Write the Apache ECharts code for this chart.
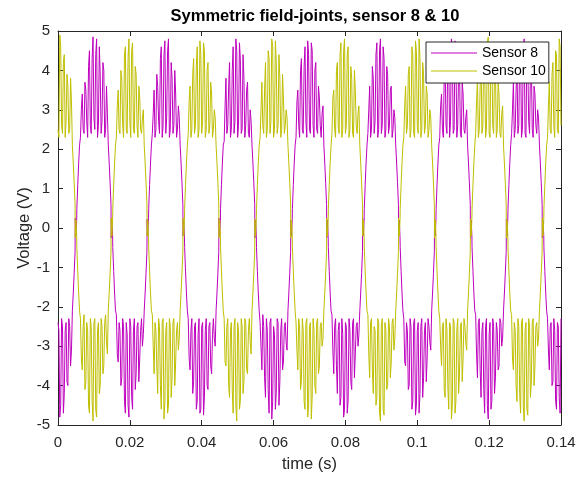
<!DOCTYPE html>
<html>
<head>
<meta charset="utf-8">
<script src="https://cdn.jsdelivr.net/npm/echarts@6/dist/echarts.min.js"></script>
<style>
  html, body { margin: 0; padding: 0; background: #fff; }
  #chart { width: 584px; height: 477px; }
</style>
</head>
<body>
<div id="chart"></div>
<script>
// Sampling step of the recorded signals (s); sample i is taken at i * sampleStep.
const sampleStep = 0.00025;

// Sensor 8 voltage (V), one row per half-cycle of the supply.
const sensor8 = [
  -2.4, -2.6, -4.8, -4.5, -2.3, -2.5, -4.7, -4.2, -2.6, -2.4, -3.9, -4.0, -2.3, -2.5, -3.5, -3.1,
  -2.1, -1.65, -1.15, -0.6, -0.2,
  // 0.01 s
  0.5, 1.1, 1.65, 2.1,
  2.3, 3.0, 3.4, 2.5, 2.4, 3.7, 3.5, 2.7, 2.3, 4.1, 4.5, 2.6, 2.4, 4.3, 4.85, 2.8, 2.5, 4.4, 4.8, 2.3, 2.6, 4.6, 3.9, 2.4, 2.7, 4.2, 4.0, 2.3, 2.5, 3.6, 2.9,
  2.1, 1.65, 1.15, 0.6, 0.2,
  // 0.02 s
  -0.5, -1.1, -1.65, -2.1,
  -2.2, -3.2, -3.4, -2.4, -2.6, -4.0, -3.8, -2.3, -2.5, -4.4, -4.7, -2.4, -2.7, -4.5, -4.8, -2.3, -2.5, -4.3, -4.6, -2.6, -2.3, -4.1, -3.7, -2.5, -2.4, -3.9, -3.3, -2.6, -2.3, -3.0, -2.7,
  -2.1, -1.65, -1.15, -0.6, -0.2,
  // 0.03 s
  0.5, 1.1, 1.65, 2.1,
  2.4, 2.9, 3.5, 2.3, 2.5, 3.9, 3.6, 2.7, 2.4, 4.3, 4.6, 2.3, 2.6, 4.4, 4.75, 2.4, 2.8, 4.5, 4.8, 2.3, 2.5, 4.2, 3.8, 2.4, 2.6, 4.0, 3.4, 2.3, 2.5, 3.1, 2.8,
  2.1, 1.65, 1.15, 0.6, 0.2,
  // 0.04 s
  -0.5, -1.1, -1.65, -2.1,
  -2.3, -3.3, -3.6, -2.6, -2.3, -4.2, -3.9, -2.5, -2.4, -4.6, -4.4, -2.7, -2.3, -4.7, -4.6, -2.5, -2.4, -4.75, -4.3, -2.6, -2.3, -4.0, -4.1, -2.5, -2.4, -3.5, -3.7, -2.7, -2.3, -2.8, -3.0,
  -2.1, -1.65, -1.15, -0.6, -0.2,
  // 0.05 s
  0.5, 1.1, 1.65, 2.1,
  2.2, 3.1, 3.8, 2.4, 2.6, 3.6, 4.2, 2.3, 2.5, 4.0, 4.6, 2.4, 2.7, 4.8, 4.5, 2.3, 2.6, 4.7, 4.3, 2.4, 2.5, 4.4, 3.8, 2.3, 2.6, 3.5, 3.7, 2.4, 2.3, 3.0, 2.7,
  2.1, 1.65, 1.15, 0.6, 0.2,
  // 0.06 s
  -0.5, -1.1, -1.65, -2.1,
  -2.4, -3.0, -3.6, -2.2, -2.5, -3.8, -4.3, -2.3, -2.6, -4.1, -4.7, -2.4, -2.3, -4.85, -4.4, -2.5, -2.7, -4.6, -4.2, -2.3, -2.4, -4.5, -3.9, -2.6, -2.3, -3.6, -3.4, -2.5, -2.4, -2.9, -3.1,
  -2.1, -1.65, -1.15, -0.6, -0.2,
  // 0.07 s
  0.5, 1.1, 1.65, 2.1,
  2.3, 3.2, 3.5, 2.6, 2.3, 4.0, 4.3, 2.5, 2.4, 4.1, 4.6, 2.7, 2.3, 4.75, 4.4, 2.5, 2.4, 4.7, 4.5, 2.6, 2.3, 4.0, 4.2, 2.5, 2.4, 3.6, 3.3, 2.6, 2.3, 2.9, 3.1,
  2.1, 1.65, 1.15, 0.6, 0.2,
  // 0.08 s
  -0.5, -1.1, -1.65, -2.1,
  -2.2, -3.1, -3.7, -2.5, -2.3, -3.5, -4.2, -2.6, -2.4, -4.5, -4.3, -2.3, -2.7, -4.8, -4.6, -2.4, -2.5, -4.7, -4.4, -2.3, -2.6, -3.9, -4.1, -2.4, -2.3, -3.8, -3.2, -2.5, -2.4, -3.0, -2.7,
  -2.1, -1.65, -1.15, -0.6, -0.2,
  // 0.09 s
  0.5, 1.1, 1.65, 2.1,
  2.4, 3.0, 3.6, 2.3, 2.5, 4.1, 3.8, 2.4, 2.7, 4.4, 4.7, 2.3, 2.5, 4.5, 4.8, 2.4, 2.6, 4.6, 4.3, 2.3, 2.5, 4.1, 3.9, 2.4, 2.6, 3.5, 3.6, 2.3, 2.5, 3.0, 2.8,
  2.1, 1.65, 1.15, 0.6, 0.2,
  // 0.10 s
  -0.5, -1.1, -1.65, -2.1,
  -2.3, -3.4, -3.5, -2.4, -2.6, -4.1, -4.0, -2.3, -2.5, -4.6, -4.4, -2.4, -2.3, -4.75, -4.5, -2.6, -2.4, -4.7, -4.2, -2.5, -2.3, -4.3, -3.8, -2.6, -2.4, -3.9, -3.3, -2.3, -2.5, -2.9, -3.1,
  -2.1, -1.65, -1.15, -0.6, -0.2,
  // 0.11 s
  0.5, 1.1, 1.65, 2.1,
  2.3, 3.1, 3.4, 2.5, 2.3, 3.9, 4.2, 2.6, 2.4, 4.5, 4.3, 2.3, 2.7, 4.8, 4.6, 2.4, 2.5, 4.75, 4.4, 2.3, 2.6, 4.0, 4.1, 2.4, 2.3, 3.7, 3.4, 2.5, 2.4, 2.8, 3.0,
  2.1, 1.65, 1.15, 0.6, 0.2,
  // 0.12 s
  -0.5, -1.1, -1.65, -2.1,
  -2.2, -3.2, -3.8, -2.4, -2.3, -3.6, -4.3, -2.6, -2.4, -4.1, -4.7, -2.5, -2.3, -4.5, -4.85, -2.7, -2.4, -4.6, -4.4, -2.3, -2.5, -4.2, -3.8, -2.4, -2.6, -3.6, -3.5, -2.3, -2.4, -3.0, -2.8,
  -2.1, -1.65, -1.15, -0.6, -0.2,
  // 0.13 s
  0.5, 1.1, 1.65, 2.1,
  2.4, 3.0, 3.7, 2.3, 2.5, 3.5, 4.2, 2.4, 2.6, 4.4, 4.7, 2.3, 2.5, 4.5, 4.8, 2.4, 2.3, 4.6, 4.3, 2.7, 2.4, 4.0, 4.2, 2.5, 2.3, 3.6, 3.4, 2.6, 2.4, 3.0, 2.8,
  2.1, 1.65, 1.15, 0.6, 0.2,
  // 0.14 s
  -0.5, -1.1, -1.65, -2.1,
  -2.3, -3.1, -3.6, -2.5, -2.4, -4.0, -3.9, -2.3, -2.6, -4.4, -4.6, -2.4, -2.5, -4.3, -4.7, -2.3
];

// Sensor 10 voltage (V), same sampling.
const sensor10 = [
  2.5, 2.3, 4.9, 4.6, 2.6, 2.4, 4.2, 4.4, 2.3, 2.7, 3.9, 3.6, 2.4, 2.5, 3.8, 3.2,
  2.1, 1.65, 1.15, 0.6, 0.2,
  // 0.01 s
  -0.5, -1.1, -1.65, -2.1,
  -2.3, -3.3, -3.6, -2.5, -2.2, -4.1, -3.9, -2.4, -2.6, -4.5, -4.7, -2.3, -2.5, -4.4, -4.9, -2.4, -2.3, -4.6, -4.8, -2.6, -2.4, -4.2, -4.0, -2.3, -2.5, -3.7, -3.5, -2.4, -2.2, -2.9, -3.2,
  -2.1, -1.65, -1.15, -0.6, -0.2,
  // 0.02 s
  0.5, 1.1, 1.65, 2.1,
  2.3, 3.1, 3.5, 2.5, 2.4, 4.0, 3.8, 2.6, 2.3, 4.4, 4.6, 2.5, 2.4, 4.3, 4.8, 2.7, 2.3, 4.5, 4.7, 2.5, 2.4, 4.1, 3.9, 2.6, 2.3, 3.6, 3.3, 2.5, 2.4, 2.8, 3.0,
  2.1, 1.65, 1.15, 0.6, 0.2,
  // 0.03 s
  -0.5, -1.1, -1.65, -2.1,
  -2.2, -3.0, -3.7, -2.4, -2.6, -3.5, -4.2, -2.3, -2.5, -4.0, -4.6, -2.4, -2.3, -4.85, -4.4, -2.6, -2.4, -4.7, -4.5, -2.3, -2.5, -4.3, -3.8, -2.4, -2.3, -4.0, -3.4, -2.6, -2.4, -3.1, -2.8,
  -2.1, -1.65, -1.15, -0.6, -0.2,
  // 0.04 s
  0.5, 1.1, 1.65, 2.1,
  2.4, 3.2, 3.6, 2.3, 2.5, 3.9, 4.3, 2.4, 2.6, 4.1, 4.6, 2.3, 2.5, 4.75, 4.4, 2.4, 2.7, 4.7, 4.5, 2.3, 2.5, 4.0, 4.2, 2.4, 2.6, 3.7, 3.4, 2.3, 2.5, 3.0, 2.8,
  2.1, 1.65, 1.15, 0.6, 0.2,
  // 0.05 s
  -0.5, -1.1, -1.65, -2.1,
  -2.3, -3.4, -3.5, -2.5, -2.3, -4.0, -4.3, -2.6, -2.4, -4.1, -4.7, -2.5, -2.3, -4.5, -4.9, -2.4, -2.6, -4.6, -4.4, -2.3, -2.5, -4.2, -3.9, -2.3, -2.4, -3.6, -3.7, -2.6, -2.3, -2.9, -3.2,
  -2.1, -1.65, -1.15, -0.6, -0.2,
  // 0.06 s
  0.5, 1.1, 1.65, 2.1,
  2.3, 3.0, 3.7, 2.6, 2.4, 3.5, 4.2, 2.3, 2.5, 4.5, 4.3, 2.4, 2.7, 4.8, 4.6, 2.3, 2.5, 4.75, 4.2, 2.4, 2.6, 4.4, 3.8, 2.3, 2.5, 3.9, 3.3, 2.4, 2.6, 3.0, 2.8,
  2.1, 1.65, 1.15, 0.6, 0.2,
  // 0.07 s
  -0.5, -1.1, -1.65, -2.1,
  -2.4, -3.1, -3.6, -2.3, -2.5, -4.1, -3.9, -2.3, -2.6, -4.4, -4.6, -2.4, -2.3, -4.8, -4.5, -2.5, -2.4, -4.85, -4.3, -2.3, -2.6, -4.0, -4.2, -2.4, -2.3, -3.7, -3.5, -2.5, -2.4, -3.0, -2.8,
  -2.1, -1.65, -1.15, -0.6, -0.2,
  // 0.08 s
  0.5, 1.1, 1.65, 2.1,
  2.4, 3.3, 3.5, 2.5, 2.3, 4.0, 4.2, 2.6, 2.4, 4.4, 4.7, 2.3, 2.5, 4.5, 4.8, 2.4, 2.6, 4.4, 4.6, 2.3, 2.5, 4.1, 3.8, 2.4, 2.3, 4.0, 3.5, 2.6, 2.4, 2.9, 3.1,
  2.1, 1.65, 1.15, 0.6, 0.2,
  // 0.09 s
  -0.5, -1.1, -1.65, -2.1,
  -2.2, -3.2, -3.8, -2.4, -2.3, -3.6, -4.2, -2.5, -2.6, -4.5, -4.3, -2.3, -2.4, -4.7, -4.9, -2.5, -2.3, -4.6, -4.75, -2.4, -2.6, -4.1, -4.0, -2.3, -2.5, -3.8, -3.4, -2.4, -2.3, -3.1, -2.8,
  -2.1, -1.65, -1.15, -0.6, -0.2,
  // 0.10 s
  0.5, 1.1, 1.65, 2.1,
  2.3, 3.1, 3.6, 2.4, 2.6, 3.9, 4.1, 2.3, 2.5, 4.6, 4.4, 2.4, 2.3, 4.75, 4.5, 2.6, 2.4, 4.8, 4.3, 2.3, 2.5, 4.2, 3.9, 2.4, 2.6, 3.6, 3.4, 2.3, 2.5, 3.0, 2.8,
  2.1, 1.65, 1.15, 0.6, 0.2,
  // 0.11 s
  -0.5, -1.1, -1.65, -2.1,
  -2.3, -3.0, -3.5, -2.5, -2.4, -4.1, -4.3, -2.3, -2.6, -4.0, -4.6, -2.4, -2.5, -4.85, -4.5, -2.3, -2.4, -4.7, -4.4, -2.6, -2.3, -4.2, -3.7, -2.5, -2.4, -3.9, -3.3, -2.3, -2.5, -2.9, -3.1,
  -2.1, -1.65, -1.15, -0.6, -0.2,
  // 0.12 s
  0.5, 1.1, 1.65, 2.1,
  2.4, 3.2, 3.8, 2.3, 2.5, 3.6, 4.3, 2.4, 2.6, 4.5, 4.2, 2.3, 2.5, 4.7, 4.85, 2.4, 2.3, 4.5, 4.6, 2.6, 2.4, 4.0, 4.1, 2.3, 2.5, 3.7, 3.4, 2.4, 2.3, 2.9, 3.1,
  2.1, 1.65, 1.15, 0.6, 0.2,
  // 0.13 s
  -0.5, -1.1, -1.65, -2.1,
  -2.2, -3.3, -3.6, -2.4, -2.6, -4.0, -4.4, -2.3, -2.5, -4.2, -4.7, -2.4, -2.3, -4.5, -4.9, -2.6, -2.4, -4.6, -4.75, -2.3, -2.5, -4.3, -3.9, -2.4, -2.3, -4.0, -3.5, -2.5, -2.4, -3.0, -2.8,
  -2.1, -1.65, -1.15, -0.6, -0.2,
  // 0.14 s
  0.5, 1.1, 1.65, 2.1,
  2.3, 3.1, 3.7, 2.5, 2.4, 3.9, 4.2, 2.6, 2.3, 4.5, 4.4, 2.5, 2.4, 4.8, 4.6, 2.6
];

// Short ripple recorded right around each zero crossing: [time (s), voltage (V)].
const ripple8 = [
  [0.0048, 0.25], [0.0052, 0.2],
  [0.0148, -0.25], [0.0152, -0.2],
  [0.0248, 0.22], [0.0252, 0.25],
  [0.0348, -0.2], [0.0352, -0.25],
  [0.0448, 0.25], [0.0452, 0.2],
  [0.0548, -0.25], [0.0552, -0.2],
  [0.0648, 0.2], [0.0652, 0.25],
  [0.0748, -0.25], [0.0752, -0.22],
  [0.0848, 0.25], [0.0852, 0.2],
  [0.0948, -0.2], [0.0952, -0.25],
  [0.1048, 0.25], [0.1052, 0.22],
  [0.1148, -0.25], [0.1152, -0.2],
  [0.1248, 0.22], [0.1252, 0.25],
  [0.1348, -0.25], [0.1352, -0.2]
];
const ripple10 = [
  [0.0048, -0.25], [0.0052, -0.2],
  [0.0148, 0.25], [0.0152, 0.2],
  [0.0248, -0.2], [0.0252, -0.25],
  [0.0348, 0.25], [0.0352, 0.22],
  [0.0448, -0.25], [0.0452, -0.2],
  [0.0548, 0.22], [0.0552, 0.25],
  [0.0648, -0.25], [0.0652, -0.2],
  [0.0748, 0.25], [0.0752, 0.2],
  [0.0848, -0.2], [0.0852, -0.25],
  [0.0948, 0.25], [0.0952, 0.22],
  [0.1048, -0.25], [0.1052, -0.2],
  [0.1148, 0.22], [0.1152, 0.25],
  [0.1248, -0.25], [0.1252, -0.2],
  [0.1348, 0.25], [0.1352, 0.2]
];

const seriesNames = ['Sensor 8', 'Sensor 10'];
const seriesColors = ['#BF00BF', '#BFBF00'];
const timeTicks = [0, 0.02, 0.04, 0.06, 0.08, 0.1, 0.12, 0.14];
const voltTicks = [-5, -4, -3, -2, -1, 0, 1, 2, 3, 4, 5];

// Merge the regular samples with the crossing ripple, ordered by time.
const toPairs = (vals, ripple) =>
  vals.map((v, i) => [i * sampleStep, v]).concat(ripple).sort((a, b) => a[0] - b[0]);

const FONT = '"Liberation Sans", Arial, Helvetica, sans-serif';
const INK = '#262626';

const tickFmt = v => String(Number(v.toFixed(4)));

const frameAxisX = (pos, showLabels) => ({
  type: 'value',
  position: pos,
  min: timeTicks[0],
  max: timeTicks[timeTicks.length - 1],
  interval: 0.02,
  name: showLabels ? 'time (s)' : '',
  nameLocation: 'middle',
  nameGap: 31,
  nameMoveOverlap: false,
  nameTextStyle: { color: INK, fontSize: 16.5, fontFamily: FONT },
  axisLine: { show: true, onZero: false, lineStyle: { color: INK, width: 1 } },
  axisTick: { show: true, inside: true, length: 5, lineStyle: { color: INK } },
  axisLabel: { show: showLabels, color: INK, fontSize: 15, fontFamily: FONT, margin: 10, formatter: tickFmt },
  splitLine: { show: false }
});

const frameAxisY = (pos, showLabels) => ({
  type: 'value',
  position: pos,
  min: voltTicks[0],
  max: voltTicks[voltTicks.length - 1],
  interval: 1,
  name: showLabels ? 'Voltage (V)' : '',
  nameLocation: 'middle',
  nameGap: 25,
  nameRotate: 90,
  nameMoveOverlap: false,
  nameTextStyle: { color: INK, fontSize: 16.5, fontFamily: FONT },
  axisLine: { show: true, onZero: false, lineStyle: { color: INK, width: 1 } },
  axisTick: { show: true, inside: true, length: 5, lineStyle: { color: INK } },
  axisLabel: { show: showLabels, color: INK, fontSize: 15, fontFamily: FONT, margin: 8, formatter: tickFmt },
  splitLine: { show: false }
});

const chart = echarts.init(document.getElementById('chart'), null, { renderer: 'canvas' });
chart.setOption({
  animation: false,
  backgroundColor: '#fff',
  title: {
    text: 'Symmetric field-joints, sensor 8 & 10',
    left: 310,
    textAlign: 'center',
    top: 3,
    textStyle: { color: '#000', fontSize: 16.5, fontWeight: 'bold', fontFamily: FONT }
  },
  grid: { left: 58, right: 23, top: 31, bottom: 52, outerBoundsMode: 'none' },
  legend: {
    orient: 'vertical',
    left: 426,
    top: 42,
    data: seriesNames,
    icon: 'rect',
    itemWidth: 46,
    itemHeight: 1,
    itemGap: 2,
    padding: [3, 3, 4, 5],
    backgroundColor: '#fff',
    borderColor: INK,
    borderWidth: 1,
    borderRadius: 0,
    textStyle: { color: '#000', fontSize: 14, fontFamily: FONT, lineHeight: 16 }
  },
  xAxis: [frameAxisX('bottom', true), frameAxisX('top', false)],
  yAxis: [frameAxisY('left', true), frameAxisY('right', false)],
  series: [[sensor8, ripple8], [sensor10, ripple10]].map(([vals, ripple], k) => ({
    name: seriesNames[k],
    type: 'line',
    xAxisIndex: 0,
    yAxisIndex: 0,
    data: toPairs(vals, ripple),
    symbol: 'none',
    showSymbol: false,
    sampling: 'none',
    lineStyle: { color: seriesColors[k], width: 1 },
    itemStyle: { color: seriesColors[k] },
    emphasis: { disabled: true }
  }))
});
</script>
</body>
</html>
